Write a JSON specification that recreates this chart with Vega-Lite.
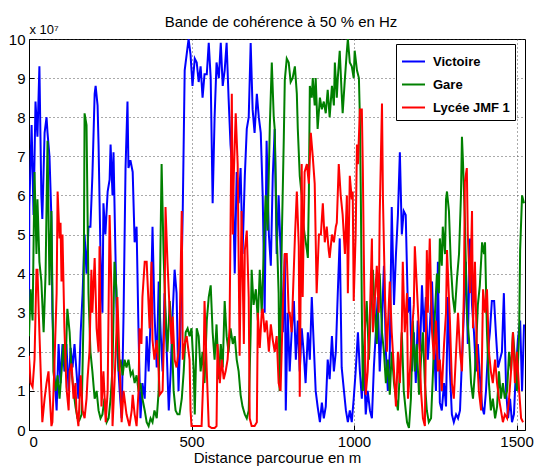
{
"$schema": "https://vega.github.io/schema/vega-lite/v6.json",
"width": 496, "height": 391,
"autosize": {"type": "none"},
"padding": {"left": 29, "top": 39, "right": 9, "bottom": 38},
"background": "white",
"config": {"font": "Liberation Sans", "view": {"stroke": "black", "strokeWidth": 1}},
"title": {"text": "Bande de cohérence à 50 % en Hz", "fontSize": 15, "fontWeight": "normal", "color": "black", "anchor": "middle", "offset": 0, "dy": 7, "dx": 4},
"datasets": {
"victoire": [{"d":0,"v":2.5},{"d":1,"v":5.7},{"d":8,"v":7.8},{"d":14,"v":5.5},{"d":20,"v":8.4},{"d":26,"v":7.5},{"d":32,"v":9.3},{"d":38,"v":6.0},{"d":41,"v":5.4},{"d":48,"v":7.6},{"d":54,"v":8.0},{"d":57,"v":7.6},{"d":63,"v":7.0},{"d":69,"v":5.4},{"d":72,"v":3.0},{"d":78,"v":1.5},{"d":85,"v":0.5},{"d":91,"v":2.2},{"d":97,"v":1.2},{"d":103,"v":2.2},{"d":109,"v":1.5},{"d":115,"v":2.2},{"d":122,"v":1.0},{"d":128,"v":2.1},{"d":134,"v":1.6},{"d":140,"v":2.2},{"d":146,"v":1.5},{"d":152,"v":0.8},{"d":159,"v":2.5},{"d":165,"v":3.5},{"d":171,"v":5.0},{"d":177,"v":4.0},{"d":183,"v":5.2},{"d":189,"v":5.2},{"d":195,"v":6.5},{"d":202,"v":8.6},{"d":205,"v":8.8},{"d":211,"v":8.3},{"d":214,"v":7.3},{"d":220,"v":4.5},{"d":226,"v":3.0},{"d":229,"v":5.8},{"d":235,"v":5.0},{"d":242,"v":6.1},{"d":248,"v":6.4},{"d":251,"v":7.3},{"d":257,"v":6.0},{"d":260,"v":7.1},{"d":266,"v":4.5},{"d":272,"v":2.0},{"d":279,"v":1.0},{"d":285,"v":0.3},{"d":291,"v":3.0},{"d":297,"v":6.7},{"d":303,"v":8.4},{"d":306,"v":6.7},{"d":312,"v":6.9},{"d":319,"v":6.6},{"d":325,"v":4.8},{"d":331,"v":5.2},{"d":337,"v":2.5},{"d":343,"v":0.3},{"d":349,"v":1.2},{"d":356,"v":0.8},{"d":362,"v":2.4},{"d":368,"v":1.5},{"d":374,"v":2.8},{"d":380,"v":5.2},{"d":386,"v":3.0},{"d":393,"v":1.6},{"d":399,"v":3.8},{"d":405,"v":2.5},{"d":411,"v":1.5},{"d":417,"v":3.5},{"d":423,"v":2.2},{"d":430,"v":0.5},{"d":436,"v":1.5},{"d":442,"v":3.0},{"d":448,"v":4.1},{"d":454,"v":3.5},{"d":460,"v":1.0},{"d":466,"v":2.5},{"d":473,"v":5.6},{"d":479,"v":9.2},{"d":485,"v":9.6},{"d":491,"v":10},{"d":497,"v":9.6},{"d":503,"v":8.8},{"d":510,"v":9.5},{"d":516,"v":9.4},{"d":522,"v":8.9},{"d":528,"v":9.3},{"d":534,"v":8.5},{"d":540,"v":9.1},{"d":547,"v":9.1},{"d":553,"v":9.9},{"d":559,"v":9.0},{"d":565,"v":5.8},{"d":571,"v":8.0},{"d":577,"v":9.4},{"d":584,"v":9.0},{"d":590,"v":9.9},{"d":596,"v":8.8},{"d":602,"v":9.2},{"d":608,"v":9.9},{"d":614,"v":8.5},{"d":620,"v":7.3},{"d":627,"v":6.5},{"d":633,"v":4.0},{"d":639,"v":6.6},{"d":645,"v":5.8},{"d":651,"v":6.7},{"d":657,"v":4.5},{"d":664,"v":6.5},{"d":670,"v":7.7},{"d":676,"v":8.0},{"d":682,"v":9.9},{"d":688,"v":8.2},{"d":694,"v":7.6},{"d":701,"v":8.6},{"d":707,"v":8.0},{"d":713,"v":7.6},{"d":719,"v":6.0},{"d":725,"v":3.0},{"d":731,"v":7.4},{"d":738,"v":5.0},{"d":744,"v":4.2},{"d":750,"v":6.5},{"d":756,"v":7.7},{"d":762,"v":4.5},{"d":768,"v":6.0},{"d":774,"v":4.6},{"d":781,"v":2.5},{"d":787,"v":4.5},{"d":790,"v":0.5},{"d":796,"v":3.0},{"d":802,"v":1.5},{"d":808,"v":2.5},{"d":815,"v":3.3},{"d":821,"v":1.8},{"d":827,"v":2.8},{"d":833,"v":1.5},{"d":839,"v":2.6},{"d":845,"v":2.0},{"d":851,"v":1.2},{"d":858,"v":2.5},{"d":864,"v":1.8},{"d":870,"v":3.4},{"d":876,"v":2.2},{"d":882,"v":1.0},{"d":888,"v":0.6},{"d":895,"v":0.2},{"d":901,"v":0.7},{"d":907,"v":0.3},{"d":913,"v":0.6},{"d":919,"v":1.8},{"d":925,"v":1.3},{"d":932,"v":2.4},{"d":938,"v":1.5},{"d":944,"v":2.0},{"d":950,"v":3.5},{"d":956,"v":4.9},{"d":962,"v":1.6},{"d":969,"v":1.0},{"d":975,"v":0.5},{"d":981,"v":0.2},{"d":987,"v":0.5},{"d":993,"v":0.2},{"d":999,"v":0.8},{"d":1005,"v":1.5},{"d":1012,"v":2.5},{"d":1018,"v":1.5},{"d":1024,"v":0.8},{"d":1030,"v":1.8},{"d":1036,"v":0.4},{"d":1042,"v":1.0},{"d":1049,"v":0.5},{"d":1055,"v":0.3},{"d":1061,"v":1.6},{"d":1067,"v":2.5},{"d":1073,"v":3.4},{"d":1079,"v":1.5},{"d":1086,"v":2.8},{"d":1092,"v":4.2},{"d":1098,"v":2.0},{"d":1104,"v":1.0},{"d":1110,"v":2.0},{"d":1116,"v":5.7},{"d":1123,"v":3.2},{"d":1129,"v":4.5},{"d":1135,"v":5.5},{"d":1141,"v":7.1},{"d":1147,"v":5.0},{"d":1153,"v":5.6},{"d":1159,"v":5.5},{"d":1166,"v":3.0},{"d":1172,"v":3.4},{"d":1178,"v":1.5},{"d":1184,"v":2.5},{"d":1190,"v":1.2},{"d":1196,"v":2.8},{"d":1203,"v":2.0},{"d":1209,"v":3.7},{"d":1215,"v":2.5},{"d":1221,"v":3.4},{"d":1227,"v":1.8},{"d":1233,"v":2.6},{"d":1240,"v":3.8},{"d":1246,"v":2.2},{"d":1252,"v":1.0},{"d":1258,"v":4.3},{"d":1264,"v":0.7},{"d":1270,"v":0.5},{"d":1277,"v":1.2},{"d":1283,"v":0.6},{"d":1289,"v":3.4},{"d":1295,"v":1.5},{"d":1301,"v":0.4},{"d":1307,"v":0.2},{"d":1314,"v":0.4},{"d":1320,"v":0.3},{"d":1326,"v":0.5},{"d":1332,"v":1.8},{"d":1338,"v":3.0},{"d":1344,"v":4.3},{"d":1350,"v":2.2},{"d":1357,"v":4.9},{"d":1363,"v":3.2},{"d":1369,"v":2.5},{"d":1375,"v":1.5},{"d":1381,"v":2.2},{"d":1387,"v":1.4},{"d":1394,"v":0.6},{"d":1400,"v":0.4},{"d":1406,"v":1.0},{"d":1412,"v":2.0},{"d":1418,"v":2.5},{"d":1424,"v":3.3},{"d":1431,"v":3.3},{"d":1437,"v":2.4},{"d":1443,"v":1.6},{"d":1449,"v":1.8},{"d":1455,"v":2.0},{"d":1461,"v":3.5},{"d":1468,"v":1.0},{"d":1474,"v":0.3},{"d":1480,"v":0.8},{"d":1486,"v":0.2},{"d":1492,"v":0.4},{"d":1498,"v":1.5},{"d":1504,"v":2.3},{"d":1511,"v":2.8},{"d":1517,"v":1.0},{"d":1523,"v":2.7}],
"gare": [{"d":0,"v":2.4},{"d":5,"v":3.6},{"d":11,"v":2.8},{"d":17,"v":6.6},{"d":23,"v":4.5},{"d":26,"v":5.9},{"d":32,"v":4.3},{"d":38,"v":3.8},{"d":45,"v":2.5},{"d":51,"v":4.0},{"d":57,"v":7.4},{"d":63,"v":3.7},{"d":69,"v":5.6},{"d":75,"v":1.5},{"d":82,"v":1.0},{"d":88,"v":1.4},{"d":94,"v":0.8},{"d":100,"v":1.5},{"d":106,"v":2.2},{"d":112,"v":1.5},{"d":118,"v":3.1},{"d":125,"v":2.5},{"d":131,"v":1.5},{"d":137,"v":1.0},{"d":143,"v":0.6},{"d":149,"v":0.3},{"d":155,"v":0.25},{"d":162,"v":0.4},{"d":168,"v":3.0},{"d":171,"v":8.1},{"d":177,"v":7.8},{"d":183,"v":3.5},{"d":189,"v":2.0},{"d":195,"v":1.5},{"d":202,"v":0.8},{"d":208,"v":1.0},{"d":214,"v":0.5},{"d":220,"v":0.3},{"d":226,"v":0.4},{"d":232,"v":0.8},{"d":239,"v":0.2},{"d":245,"v":0.3},{"d":251,"v":0.8},{"d":257,"v":1.6},{"d":263,"v":4.3},{"d":269,"v":3.6},{"d":276,"v":1.5},{"d":282,"v":1.8},{"d":288,"v":1.4},{"d":294,"v":1.8},{"d":300,"v":1.6},{"d":306,"v":1.8},{"d":313,"v":1.4},{"d":319,"v":1.5},{"d":325,"v":1.2},{"d":331,"v":1.4},{"d":337,"v":1.0},{"d":343,"v":1.2},{"d":349,"v":0.8},{"d":356,"v":0.5},{"d":362,"v":0.2},{"d":368,"v":0.1},{"d":374,"v":0.3},{"d":380,"v":0.2},{"d":386,"v":0.5},{"d":393,"v":0.3},{"d":399,"v":1.0},{"d":405,"v":5.0},{"d":408,"v":6.8},{"d":414,"v":4.5},{"d":420,"v":3.0},{"d":426,"v":2.0},{"d":433,"v":3.3},{"d":439,"v":2.5},{"d":445,"v":1.0},{"d":451,"v":0.5},{"d":457,"v":0.4},{"d":463,"v":0.4},{"d":470,"v":0.8},{"d":476,"v":1.5},{"d":482,"v":2.5},{"d":488,"v":2.6},{"d":494,"v":2.4},{"d":500,"v":2.6},{"d":507,"v":1.5},{"d":510,"v":0.4},{"d":516,"v":2.6},{"d":522,"v":2.4},{"d":528,"v":1.5},{"d":534,"v":2.0},{"d":540,"v":1.2},{"d":547,"v":2.8},{"d":553,"v":3.4},{"d":559,"v":3.7},{"d":565,"v":2.5},{"d":571,"v":1.8},{"d":577,"v":2.7},{"d":584,"v":1.3},{"d":590,"v":2.2},{"d":596,"v":1.6},{"d":602,"v":3.3},{"d":608,"v":2.4},{"d":614,"v":2.0},{"d":620,"v":2.6},{"d":627,"v":2.2},{"d":633,"v":2.4},{"d":639,"v":1.8},{"d":645,"v":1.5},{"d":651,"v":0.9},{"d":657,"v":0.6},{"d":664,"v":0.4},{"d":670,"v":0.3},{"d":676,"v":0.5},{"d":682,"v":2.5},{"d":685,"v":4.1},{"d":691,"v":3.2},{"d":698,"v":3.6},{"d":704,"v":2.8},{"d":710,"v":4.1},{"d":716,"v":3.0},{"d":722,"v":4.5},{"d":728,"v":6.0},{"d":734,"v":5.1},{"d":741,"v":7.8},{"d":747,"v":9.4},{"d":753,"v":8.0},{"d":756,"v":7.7},{"d":762,"v":5.1},{"d":768,"v":3.5},{"d":771,"v":1.0},{"d":778,"v":5.0},{"d":784,"v":7.5},{"d":787,"v":8.95},{"d":793,"v":9.5},{"d":799,"v":9.4},{"d":805,"v":8.9},{"d":811,"v":9.0},{"d":818,"v":9.3},{"d":824,"v":8.6},{"d":827,"v":7.7},{"d":833,"v":6.5},{"d":839,"v":6.0},{"d":842,"v":5.4},{"d":848,"v":5.0},{"d":855,"v":4.6},{"d":858,"v":4.4},{"d":861,"v":6.0},{"d":864,"v":8.8},{"d":870,"v":8.5},{"d":873,"v":9.0},{"d":879,"v":8.3},{"d":882,"v":9.0},{"d":888,"v":7.7},{"d":895,"v":8.5},{"d":901,"v":8.2},{"d":907,"v":8.4},{"d":913,"v":8.1},{"d":919,"v":8.7},{"d":925,"v":8.0},{"d":932,"v":8.8},{"d":938,"v":8.3},{"d":941,"v":9.4},{"d":947,"v":8.5},{"d":950,"v":9.0},{"d":956,"v":9.7},{"d":962,"v":8.6},{"d":965,"v":8.1},{"d":972,"v":9.0},{"d":978,"v":9.7},{"d":981,"v":10},{"d":987,"v":9.4},{"d":993,"v":9.3},{"d":999,"v":9.0},{"d":1002,"v":9.7},{"d":1009,"v":9.2},{"d":1015,"v":9.0},{"d":1018,"v":8.0},{"d":1021,"v":5.9},{"d":1024,"v":3.1},{"d":1027,"v":1.0},{"d":1033,"v":2.5},{"d":1039,"v":3.3},{"d":1046,"v":1.8},{"d":1052,"v":3.2},{"d":1058,"v":4.1},{"d":1064,"v":3.0},{"d":1070,"v":2.2},{"d":1076,"v":3.5},{"d":1079,"v":4.0},{"d":1086,"v":2.5},{"d":1092,"v":2.0},{"d":1098,"v":1.2},{"d":1104,"v":1.8},{"d":1110,"v":0.9},{"d":1116,"v":2.0},{"d":1123,"v":1.2},{"d":1129,"v":0.8},{"d":1135,"v":0.5},{"d":1141,"v":1.5},{"d":1147,"v":2.5},{"d":1153,"v":1.0},{"d":1159,"v":0.5},{"d":1163,"v":0.2},{"d":1169,"v":0.05},{"d":1175,"v":0.8},{"d":1181,"v":2.8},{"d":1187,"v":1.5},{"d":1193,"v":2.2},{"d":1200,"v":0.9},{"d":1206,"v":1.8},{"d":1212,"v":2.5},{"d":1218,"v":1.2},{"d":1224,"v":0.5},{"d":1230,"v":0.2},{"d":1237,"v":0.3},{"d":1243,"v":1.5},{"d":1249,"v":3.0},{"d":1255,"v":4.0},{"d":1261,"v":3.5},{"d":1264,"v":4.9},{"d":1270,"v":4.2},{"d":1273,"v":5.2},{"d":1280,"v":4.5},{"d":1283,"v":5.9},{"d":1286,"v":6.1},{"d":1292,"v":5.6},{"d":1298,"v":4.2},{"d":1304,"v":3.4},{"d":1310,"v":3.0},{"d":1317,"v":3.9},{"d":1323,"v":4.5},{"d":1329,"v":6.0},{"d":1332,"v":7.5},{"d":1335,"v":6.9},{"d":1341,"v":5.4},{"d":1347,"v":3.0},{"d":1354,"v":2.3},{"d":1360,"v":1.2},{"d":1366,"v":0.8},{"d":1372,"v":1.5},{"d":1378,"v":2.6},{"d":1381,"v":3.2},{"d":1387,"v":3.7},{"d":1394,"v":4.8},{"d":1400,"v":4.5},{"d":1403,"v":4.8},{"d":1409,"v":2.5},{"d":1415,"v":1.2},{"d":1421,"v":0.5},{"d":1427,"v":0.8},{"d":1434,"v":0.3},{"d":1440,"v":0.6},{"d":1446,"v":1.5},{"d":1452,"v":0.8},{"d":1458,"v":1.2},{"d":1464,"v":0.8},{"d":1471,"v":1.0},{"d":1477,"v":2.0},{"d":1483,"v":1.5},{"d":1489,"v":2.5},{"d":1495,"v":1.8},{"d":1501,"v":1.0},{"d":1508,"v":2.5},{"d":1511,"v":4.6},{"d":1517,"v":6.0},{"d":1523,"v":5.8}],
"lycee": [{"d":0,"v":1.9},{"d":5,"v":1.2},{"d":11,"v":1.1},{"d":17,"v":1.8},{"d":23,"v":4.1},{"d":26,"v":4.1},{"d":32,"v":2.5},{"d":38,"v":1.0},{"d":41,"v":0.2},{"d":48,"v":0.8},{"d":54,"v":1.2},{"d":60,"v":1.5},{"d":63,"v":1.0},{"d":69,"v":0.1},{"d":72,"v":0.2},{"d":78,"v":1.6},{"d":85,"v":3.5},{"d":88,"v":6.1},{"d":94,"v":4.9},{"d":97,"v":5.3},{"d":100,"v":3.8},{"d":103,"v":5.0},{"d":109,"v":2.6},{"d":115,"v":1.1},{"d":122,"v":0.5},{"d":125,"v":1.5},{"d":131,"v":1.7},{"d":137,"v":0.8},{"d":143,"v":1.2},{"d":146,"v":0.5},{"d":152,"v":0.1},{"d":159,"v":1.4},{"d":165,"v":0.5},{"d":171,"v":0.3},{"d":177,"v":0.8},{"d":180,"v":1.3},{"d":186,"v":2.0},{"d":192,"v":4.1},{"d":195,"v":3.0},{"d":202,"v":4.4},{"d":208,"v":2.6},{"d":214,"v":2.0},{"d":217,"v":4.7},{"d":223,"v":0.6},{"d":229,"v":1.5},{"d":236,"v":0.2},{"d":242,"v":1.0},{"d":248,"v":5.5},{"d":254,"v":3.4},{"d":257,"v":0.1},{"d":263,"v":1.2},{"d":269,"v":2.5},{"d":272,"v":3.4},{"d":279,"v":1.6},{"d":285,"v":0.2},{"d":291,"v":1.0},{"d":300,"v":0.4},{"d":309,"v":0.1},{"d":316,"v":0.5},{"d":319,"v":0.9},{"d":325,"v":0.4},{"d":331,"v":0.1},{"d":337,"v":1.0},{"d":340,"v":2.6},{"d":346,"v":2.2},{"d":349,"v":3.4},{"d":356,"v":4.3},{"d":362,"v":4.3},{"d":368,"v":3.2},{"d":371,"v":2.6},{"d":377,"v":4.3},{"d":380,"v":2.3},{"d":386,"v":1.8},{"d":393,"v":2.3},{"d":399,"v":1.5},{"d":402,"v":0.9},{"d":411,"v":1.0},{"d":417,"v":3.0},{"d":420,"v":5.7},{"d":426,"v":4.3},{"d":433,"v":3.0},{"d":439,"v":2.2},{"d":442,"v":2.9},{"d":448,"v":1.8},{"d":454,"v":1.6},{"d":460,"v":2.0},{"d":463,"v":2.4},{"d":470,"v":5.6},{"d":473,"v":1.8},{"d":479,"v":2.2},{"d":485,"v":2.4},{"d":488,"v":2.2},{"d":494,"v":1.8},{"d":497,"v":0.5},{"d":500,"v":0.1},{"d":510,"v":0.1},{"d":522,"v":0.1},{"d":531,"v":0.1},{"d":537,"v":1.5},{"d":540,"v":3.3},{"d":547,"v":1.5},{"d":553,"v":0.1},{"d":562,"v":0.05},{"d":571,"v":0.05},{"d":577,"v":0.1},{"d":580,"v":2.2},{"d":587,"v":1.2},{"d":593,"v":1.8},{"d":599,"v":1.3},{"d":605,"v":1.5},{"d":611,"v":1.8},{"d":617,"v":2.6},{"d":624,"v":8.6},{"d":627,"v":5.0},{"d":630,"v":6.5},{"d":636,"v":8.1},{"d":642,"v":6.8},{"d":648,"v":1.9},{"d":654,"v":5.6},{"d":661,"v":2.2},{"d":664,"v":4.6},{"d":670,"v":5.1},{"d":676,"v":3.4},{"d":679,"v":0.3},{"d":685,"v":0.1},{"d":694,"v":0.1},{"d":701,"v":0.2},{"d":704,"v":3.0},{"d":710,"v":2.1},{"d":716,"v":3.0},{"d":719,"v":3.1},{"d":725,"v":2.5},{"d":731,"v":2.8},{"d":738,"v":2.0},{"d":744,"v":2.7},{"d":750,"v":2.3},{"d":756,"v":2.0},{"d":762,"v":2.4},{"d":768,"v":1.2},{"d":774,"v":1.0},{"d":781,"v":3.1},{"d":787,"v":4.5},{"d":793,"v":4.5},{"d":799,"v":3.0},{"d":802,"v":3.0},{"d":808,"v":2.5},{"d":811,"v":3.2},{"d":818,"v":4.9},{"d":824,"v":6.1},{"d":830,"v":4.7},{"d":833,"v":0.85},{"d":839,"v":6.8},{"d":842,"v":3.4},{"d":848,"v":6.6},{"d":855,"v":6.8},{"d":861,"v":6.3},{"d":867,"v":7.6},{"d":873,"v":7.0},{"d":879,"v":6.3},{"d":885,"v":3.5},{"d":892,"v":5.0},{"d":898,"v":5.0},{"d":904,"v":5.8},{"d":910,"v":4.8},{"d":916,"v":5.2},{"d":922,"v":4.6},{"d":925,"v":4.4},{"d":932,"v":5.0},{"d":938,"v":4.8},{"d":944,"v":5.2},{"d":947,"v":5.3},{"d":953,"v":6.8},{"d":959,"v":6.0},{"d":965,"v":5.5},{"d":972,"v":4.5},{"d":978,"v":6.0},{"d":981,"v":3.5},{"d":987,"v":6.5},{"d":993,"v":5.9},{"d":996,"v":6.1},{"d":999,"v":3.3},{"d":1005,"v":5.0},{"d":1009,"v":7.3},{"d":1012,"v":6.8},{"d":1018,"v":8.2},{"d":1024,"v":8.2},{"d":1027,"v":6.7},{"d":1033,"v":2.5},{"d":1036,"v":0.9},{"d":1042,"v":1.5},{"d":1049,"v":3.0},{"d":1055,"v":4.9},{"d":1058,"v":2.5},{"d":1064,"v":3.3},{"d":1070,"v":4.2},{"d":1076,"v":3.0},{"d":1079,"v":5.5},{"d":1086,"v":8.35},{"d":1089,"v":5.9},{"d":1095,"v":3.5},{"d":1101,"v":2.0},{"d":1107,"v":3.2},{"d":1110,"v":3.8},{"d":1116,"v":2.5},{"d":1123,"v":1.5},{"d":1129,"v":0.6},{"d":1135,"v":2.0},{"d":1141,"v":1.2},{"d":1147,"v":2.6},{"d":1150,"v":4.3},{"d":1156,"v":2.5},{"d":1163,"v":3.5},{"d":1166,"v":0.8},{"d":1172,"v":1.5},{"d":1178,"v":2.5},{"d":1184,"v":3.2},{"d":1187,"v":4.7},{"d":1193,"v":3.7},{"d":1200,"v":2.5},{"d":1206,"v":1.0},{"d":1212,"v":0.3},{"d":1218,"v":0.1},{"d":1224,"v":4.6},{"d":1227,"v":3.0},{"d":1233,"v":4.9},{"d":1240,"v":2.5},{"d":1246,"v":1.8},{"d":1252,"v":2.8},{"d":1258,"v":1.5},{"d":1264,"v":1.8},{"d":1270,"v":1.0},{"d":1277,"v":2.2},{"d":1283,"v":3.0},{"d":1286,"v":4.6},{"d":1289,"v":4.0},{"d":1295,"v":2.8},{"d":1301,"v":1.2},{"d":1307,"v":0.8},{"d":1314,"v":2.0},{"d":1320,"v":3.0},{"d":1326,"v":2.0},{"d":1332,"v":1.5},{"d":1338,"v":3.5},{"d":1341,"v":6.35},{"d":1347,"v":6.7},{"d":1350,"v":5.0},{"d":1357,"v":3.5},{"d":1363,"v":5.6},{"d":1366,"v":2.6},{"d":1372,"v":4.3},{"d":1378,"v":2.0},{"d":1384,"v":1.0},{"d":1391,"v":0.5},{"d":1397,"v":3.6},{"d":1403,"v":3.0},{"d":1409,"v":3.6},{"d":1415,"v":2.0},{"d":1421,"v":1.5},{"d":1427,"v":1.2},{"d":1434,"v":1.8},{"d":1440,"v":1.2},{"d":1446,"v":0.8},{"d":1452,"v":0.5},{"d":1458,"v":0.2},{"d":1464,"v":0.4},{"d":1471,"v":0.3},{"d":1477,"v":0.8},{"d":1483,"v":1.5},{"d":1489,"v":2.5},{"d":1495,"v":1.2},{"d":1501,"v":2.0},{"d":1508,"v":1.0},{"d":1514,"v":0.3},{"d":1520,"v":0.2}]
},
"encoding": {
  "x": {"field": "d", "type": "quantitative", "scale": {"domain": [0, 1526], "nice": false, "zero": false},
        "axis": {"values": [0, 500, 1000, 1500], "format": "d", "grid": true, "gridDash": [1, 3], "gridColor": "#444", "gridOpacity": 0.9, "tickSize": -5, "tickColor": "black", "domainColor": "black", "labelFontSize": 15, "labelColor": "black", "labelPadding": 9, "title": "Distance parcourue en m", "titleFontSize": 15, "titleFontWeight": "normal", "titleColor": "black", "titlePadding": 1}},
  "y": {"field": "v", "type": "quantitative", "scale": {"domain": [0, 10], "nice": false},
        "axis": {"values": [0,1,2,3,4,5,6,7,8,9,10], "grid": true, "gridDash": [1, 3], "gridColor": "#444", "gridOpacity": 0.9, "tickSize": -5, "tickColor": "black", "domainColor": "black", "labelFontSize": 15, "labelColor": "black", "labelPadding": 9, "title": "x 10⁷", "titleAngle": 0, "titleAlign": "left", "titleBaseline": "alphabetic", "titleX": 0, "titleY": -6, "titleFontSize": 13, "titleFontWeight": "normal", "titleColor": "black"}},
  "color": {"type": "nominal", "scale": {"domain": ["Victoire", "Gare", "Lycée JMF 1"], "range": ["#0000ff", "#008000", "#ff0000"]},
            "legend": {"title": null, "orient": "none", "legendX": 367, "legendY": 5, "strokeColor": "black", "fillColor": "white", "padding": 5, "cornerRadius": 0, "labelFontSize": 13, "labelFontWeight": "bold", "labelColor": "black", "labelOffset": 7, "symbolType": "stroke", "symbolStrokeWidth": 2, "symbolSize": 529, "rowPadding": 3}}
},
"layer": [
  {"data": {"name": "victoire"}, "mark": {"type": "line", "strokeWidth": 2, "clip": true}, "encoding": {"color": {"datum": "Victoire"}}},
  {"data": {"name": "gare"}, "mark": {"type": "line", "strokeWidth": 2, "clip": true}, "encoding": {"color": {"datum": "Gare"}}},
  {"data": {"name": "lycee"}, "mark": {"type": "line", "strokeWidth": 2, "clip": true}, "encoding": {"color": {"datum": "Lycée JMF 1"}}}
]
}
